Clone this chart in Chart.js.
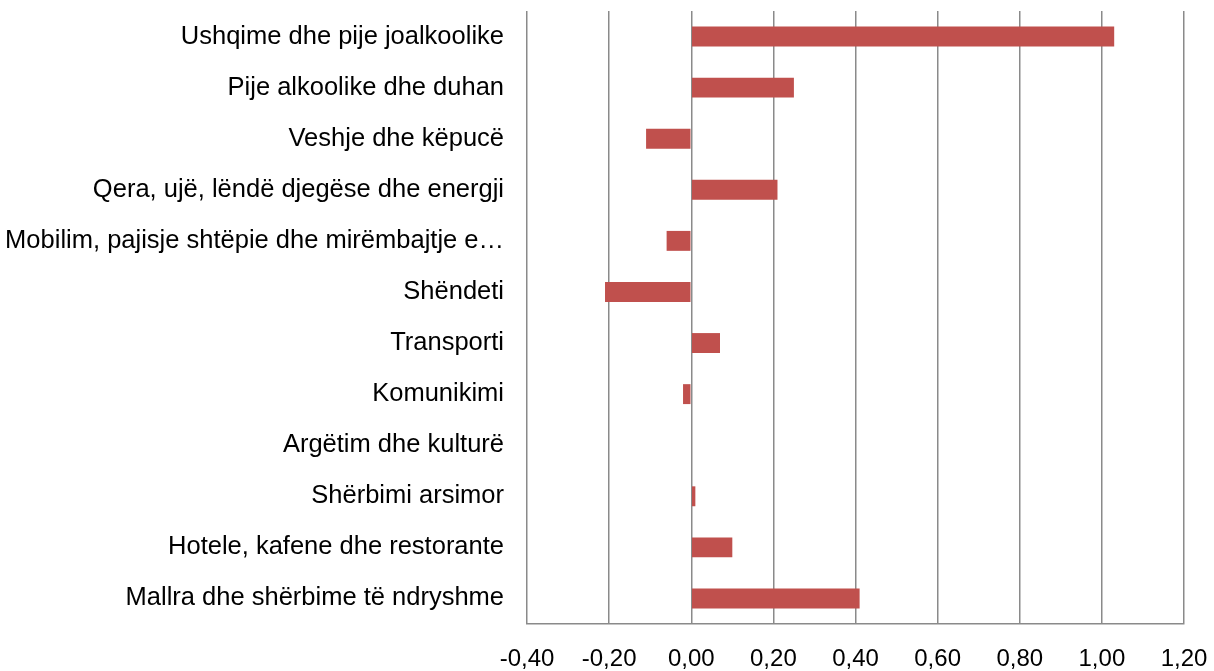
<!DOCTYPE html>
<html>
<head>
<meta charset="utf-8">
<script src="https://cdn.jsdelivr.net/npm/chart.js@4/dist/chart.umd.min.js"></script>
<style>
    html, body { margin: 0; padding: 0; background: #fff; }
    #wrap { width: 1214px; height: 671px; }
</style>
</head>
<body>
<div id="wrap"><canvas id="chart" width="1214" height="671"></canvas></div>
<script>
// Kategoritë (nga lart poshtë)
const categories = [
    'Ushqime dhe pije joalkoolike',
    'Pije alkoolike dhe duhan',
    'Veshje dhe këpucë',
    'Qera, ujë, lëndë djegëse dhe energji',
    'Mobilim, pajisje shtëpie dhe mirëmbajtje e…',
    'Shëndeti',
    'Transporti',
    'Komunikimi',
    'Argëtim dhe kulturë',
    'Shërbimi arsimor',
    'Hotele, kafene dhe restorante',
    'Mallra dhe shërbime të ndryshme'
];

const values = [1.03, 0.25, -0.11, 0.21, -0.06, -0.21, 0.07, -0.02, 0.00, 0.01, 0.10, 0.41];

const xMin = -0.4;
const xMax = 1.2;
const xStep = 0.2;

const gridColor = '#8a8a8a';

new Chart(document.getElementById('chart'), {
    type: 'bar',
    data: {
        labels: categories,
        datasets: [{
            data: values,
            backgroundColor: '#C0504D',
            borderWidth: 0,
            categoryPercentage: 1,
            barPercentage: 0.39
        }]
    },
    options: {
        indexAxis: 'y',
        responsive: false,
        animation: false,
        layout: { padding: { top: 11, right: 30, bottom: 0, left: 0 } },
        plugins: {
            legend: { display: false },
            tooltip: { enabled: false }
        },
        scales: {
            x: {
                min: xMin,
                max: xMax,
                grid: { color: gridColor, lineWidth: 1.5, drawTicks: false },
                border: { color: gridColor, width: 1.5 },
                ticks: {
                    stepSize: xStep,
                    padding: 21,
                    color: '#000',
                    maxRotation: 0,
                    font: { family: '"Liberation Sans", Arial', size: 24 },
                    callback: (v) => Number(v).toFixed(2).replace('.', ',')
                },
                afterFit: (scale) => {
                    scale.height = 47;
                    scale.paddingLeft = 0;
                    scale.paddingRight = 0;
                }
            },
            y: {
                grid: { display: false, drawTicks: false },
                border: { display: false },
                ticks: {
                    padding: 23,
                    color: '#000',
                    autoSkip: false,
                    font: { family: '"Liberation Sans", Arial', size: 25.5 }
                },
                afterFit: (scale) => {
                    scale.width = 527;
                    scale.paddingTop = 0;
                    scale.paddingBottom = 0;
                }
            }
        }
    }
});
</script>
</body>
</html>
